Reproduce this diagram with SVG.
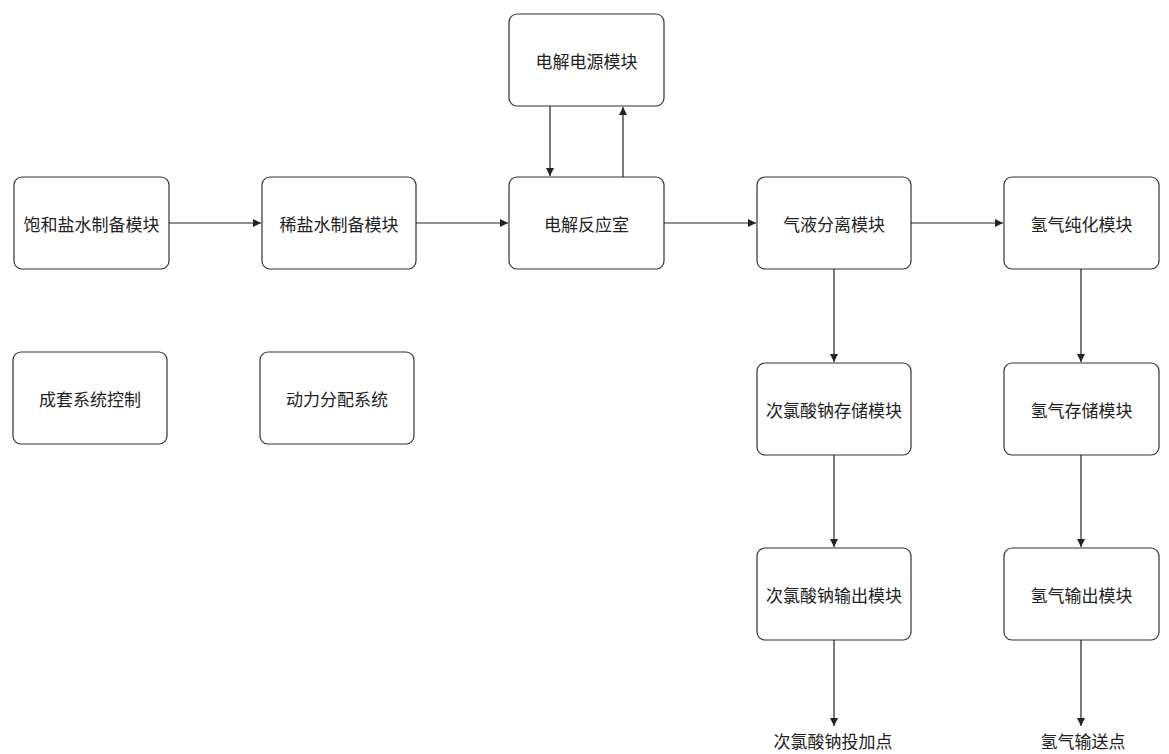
<svg xmlns="http://www.w3.org/2000/svg" width="1169" height="754" viewBox="0 0 1169 754">
<defs>
<marker id="arr" viewBox="0 0 10 10" refX="10" refY="5" markerWidth="8" markerHeight="8" markerUnits="userSpaceOnUse" orient="auto">
<path d="M0,0 L10,5 L0,10 z" fill="#222"/>
</marker>
<style>
.box{fill:#fff;stroke:#333;stroke-width:1.2}
.t{font-family:"Noto Sans CJK SC","Noto Sans",sans-serif;font-size:17px;fill:#222;text-anchor:middle;dominant-baseline:central}
.c{fill:none;stroke:#222;stroke-width:1.2;marker-end:url(#arr)}
</style>
</defs>
<rect width="1169" height="754" fill="#fff"/>
<g id="n1"><rect class="box" x="14" y="177" width="155" height="92" rx="8"/><text class="t" x="91.5" y="223">饱和盐水制备模块</text></g>
<g id="n2"><rect class="box" x="262" y="177" width="154" height="92" rx="8"/><text class="t" x="339" y="223">稀盐水制备模块</text></g>
<g id="n3"><rect class="box" x="509" y="177" width="155" height="92" rx="8"/><text class="t" x="586.5" y="223">电解反应室</text></g>
<g id="n4"><rect class="box" x="509" y="14" width="155" height="92" rx="8"/><text class="t" x="586.5" y="60">电解电源模块</text></g>
<g id="n5"><rect class="box" x="757" y="177" width="154" height="92" rx="8"/><text class="t" x="834" y="223">气液分离模块</text></g>
<g id="n6"><rect class="box" x="1004" y="177" width="155" height="92" rx="8"/><text class="t" x="1081.5" y="223">氢气纯化模块</text></g>
<g id="n7"><rect class="box" x="13" y="352" width="154" height="92" rx="8"/><text class="t" x="90" y="398">成套系统控制</text></g>
<g id="n8"><rect class="box" x="260" y="352" width="154" height="92" rx="8"/><text class="t" x="337" y="398">动力分配系统</text></g>
<g id="n9"><rect class="box" x="757" y="363" width="154" height="92" rx="8"/><text class="t" x="834" y="409">次氯酸钠存储模块</text></g>
<g id="n10"><rect class="box" x="1004" y="363" width="155" height="92" rx="8"/><text class="t" x="1081.5" y="409">氢气存储模块</text></g>
<g id="n11"><rect class="box" x="757" y="548" width="154" height="92" rx="8"/><text class="t" x="834" y="594">次氯酸钠输出模块</text></g>
<g id="n12"><rect class="box" x="1004" y="548" width="155" height="92" rx="8"/><text class="t" x="1081.5" y="594">氢气输出模块</text></g>
<g id="n13"><text class="t" x="833" y="740">次氯酸钠投加点</text></g>
<g id="n14"><text class="t" x="1083" y="740">氢气输送点</text></g>
<g id="connectors">
<line class="c" x1="169" y1="223" x2="261" y2="223"/>
<line class="c" x1="416" y1="223" x2="508" y2="223"/>
<line class="c" x1="664" y1="223" x2="756" y2="223"/>
<line class="c" x1="911" y1="223" x2="1003" y2="223"/>
<line class="c" x1="550" y1="106" x2="550" y2="176"/>
<line class="c" x1="623" y1="177" x2="623" y2="107"/>
<line class="c" x1="834" y1="269" x2="834" y2="362"/>
<line class="c" x1="1081" y1="269" x2="1081" y2="362"/>
<line class="c" x1="834" y1="455" x2="834" y2="547"/>
<line class="c" x1="1081" y1="455" x2="1081" y2="547"/>
<line class="c" x1="834" y1="640" x2="834" y2="726"/>
<line class="c" x1="1081" y1="640" x2="1081" y2="726"/>
</g>
</svg>
